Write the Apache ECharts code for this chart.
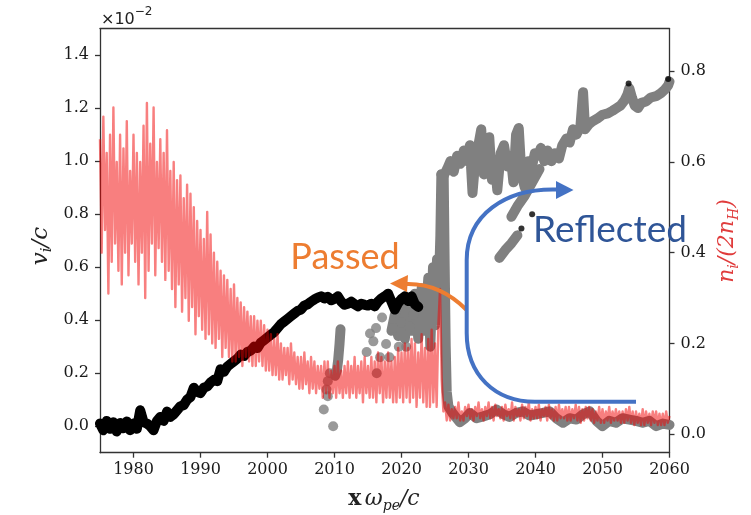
<!DOCTYPE html>
<html><head><meta charset="utf-8">
<script src="https://cdn.jsdelivr.net/npm/echarts@6/dist/echarts.min.js"></script>
<style>html,body{margin:0;padding:0;background:#fff}#c{width:751px;height:515px}</style>
</head><body><div id="c"></div>
<script>
// ---- tick labels ----
const xTicks = [1980, 1990, 2000, 2010, 2020, 2030, 2040, 2050, 2060];
const leftTicks = [0, 0.2, 0.4, 0.6, 0.8, 1.0, 1.2, 1.4];
const rightTicks = [0, 0.2, 0.4, 0.6, 0.8];

// ---- black: v_i/c of passed ions (left axis, x10^-2), sampled every 0.5 from 1975 ----
const blackStart = 1975, blackStep = 0.5;
const blackValues = [
  0.01,-0.015,0.02,-0.01,0.015,-0.02,0.012,-0.008,0.018,-0.015,
  0.01,-0.01,0.06,0.015,0.01,0.0,-0.015,0.02,0.035,0.02,
  0.055,0.035,0.045,0.06,0.075,0.08,0.1,0.11,0.145,0.13,
  0.125,0.145,0.15,0.165,0.175,0.17,0.215,0.205,0.225,0.235,
  0.245,0.255,0.27,0.265,0.28,0.285,0.3,0.295,0.315,0.325,
  0.335,0.345,0.355,0.37,0.385,0.395,0.405,0.415,0.425,0.435,
  0.44,0.455,0.46,0.47,0.478,0.485,0.49,0.482,0.488,0.475,
  0.48,0.49,0.47,0.458,0.462,0.47,0.46,0.452,0.462,0.458,
  0.455,0.462,0.452,0.47,0.482,0.49,0.5,0.47,0.44,0.465,
  0.48,0.49,0.472,0.49,0.46,0.45
];
const blackDots = [[2037.9,0.746],[2039.5,0.8],[2053.9,1.293],[2059.8,1.31]];

// ---- gray: v_i/c of all ions (left axis) ----
const grayDots = [[2008.4,0.063],[2009.8,0.0],[2008.8,0.138],[2009.0,0.113],[2009.3,0.2],[2009.0,0.17],
  [2014.8,0.28],[2015.3,0.35],[2016.2,0.37],[2016.8,0.26],[2016.3,0.2],[2017.7,0.31],[2018.2,0.26],
  [2017.1,0.41],[2015.8,0.32],[2018.8,0.37],[2019.2,0.43],[2019.6,0.3],[2020.7,0.3],[2021.2,0.375],
  [2020.0,0.39],[2021.8,0.42]];
const grayStreak = [[2010.9,0.366],[2010.75,0.31],[2010.55,0.25],[2010.35,0.21],[2010.1,0.19]];
const grayCloud = [[2018.5,0.36],[2019.0,0.42],[2019.5,0.34],[2020.0,0.44],[2020.5,0.33],[2021.0,0.46],
  [2021.5,0.36],[2022.0,0.5],[2022.5,0.33],[2023.0,0.52],[2023.5,0.36],[2024.0,0.56],[2024.3,0.3],
  [2024.7,0.6],[2025.0,0.38],[2025.3,0.63],[2025.6,0.55],[2025.8,0.72],[2025.95,0.95]];
const grayUpper = [[2025.95,0.95],[2026.3,0.945],[2026.8,0.97],[2027.3,1.0],[2027.8,0.96],[2028.3,1.02],
  [2028.8,0.99],[2029.3,1.04],[2029.8,1.0],[2030.2,1.06],[2030.6,0.88],[2031.0,1.0],[2031.4,1.05],
  [2031.9,1.12],[2032.3,0.95],[2032.7,1.02],[2033.1,1.09],[2033.5,0.93],[2033.9,1.0],[2034.3,0.89],
  [2034.8,1.03],[2035.3,1.06],[2035.8,0.98],[2036.3,1.02],[2036.7,0.92],[2037.1,1.1],[2037.5,1.125],
  [2037.9,0.95],[2038.4,0.9],[2038.9,1.0],[2039.4,0.97],[2039.9,1.03],[2040.4,1.02],[2040.8,1.05],
  [2041.3,1.0],[2041.8,1.04],[2042.4,1.0],[2042.9,1.03],[2043.5,1.01],[2044.0,1.06],[2044.6,1.085],
  [2045.1,1.07],[2045.6,1.12],[2046.1,1.1],[2046.7,1.13],[2047.1,1.26],[2047.4,1.12],[2048.0,1.14],
  [2048.5,1.15],[2049.2,1.16],[2050.0,1.175],[2050.8,1.18],[2051.5,1.19],[2052.1,1.2],[2052.7,1.21],
  [2053.3,1.23],[2053.7,1.25],[2054.0,1.275],[2054.4,1.24],[2054.8,1.21],[2055.3,1.2],[2055.8,1.22],
  [2056.5,1.225],[2057.2,1.24],[2058.0,1.245],[2058.7,1.256],[2059.3,1.27],[2059.8,1.286],[2060.0,1.3]];
const grayLower = [[2026.3,0.94],[2026.45,0.6],[2026.6,0.3],[2026.75,0.13],[2027.0,0.075],[2027.6,0.05],
  [2028.7,0.015],[2029.5,0.03],[2030.2,0.05],[2031.2,0.03],[2032.2,0.037],[2033.2,0.045],[2034.2,0.063],
  [2035.2,0.045],[2036.1,0.035],[2037.1,0.05],[2038.1,0.056],[2039.1,0.04],[2040.1,0.045],[2041.1,0.05],
  [2042.1,0.056],[2043.1,0.03],[2044.1,0.013],[2045.1,0.03],[2046.1,0.025],[2047.1,0.045],[2048.1,0.056],
  [2049.1,0.02],[2050.0,0.0],[2051.0,0.02],[2052.0,0.013],[2053.0,0.03],[2054.0,0.025],[2055.0,0.02],
  [2056.0,0.013],[2057.0,0.02],[2058.0,0.0],[2059.0,0.01],[2060.0,0.005]];
const grayBeamA = [[2034.6,0.635],[2035.5,0.665],[2036.4,0.69],[2037.3,0.72]];
const grayBeamB = [[2036.4,0.79],[2037.3,0.83],[2038.4,0.87],[2039.5,0.92],[2040.6,0.97]];

// ---- red: n_i/(2n_H) (right axis), sampled every 0.25 from 1975 ----
const redStart = 1975, redStep = 0.25;
const redValues = [
  0.65,0.40,0.70,0.45, 0.62,0.31,0.66,0.38, 0.72,0.42,0.60,0.36, 0.66,0.33,0.63,0.40, 0.69,0.35,0.58,0.42,
  0.66,0.38,0.62,0.33, 0.60,0.40,0.68,0.30, 0.73,0.36,0.64,0.42, 0.72,0.35,0.60,0.41, 0.65,0.38,0.62,0.34,
  0.67,0.36,0.58,0.32, 0.60,0.28,0.56,0.33, 0.57,0.27,0.52,0.30, 0.55,0.25,0.53,0.28, 0.50,0.22,0.47,0.26,
  0.45,0.23,0.43,0.21, 0.49,0.22,0.44,0.20, 0.40,0.19,0.38,0.21, 0.36,0.17,0.35,0.19, 0.34,0.17,0.32,0.16,
  0.33,0.16,0.30,0.17, 0.29,0.15,0.28,0.17, 0.27,0.16,0.26,0.15, 0.26,0.15,0.25,0.16, 0.25,0.15,0.24,0.14,
  0.23,0.14,0.22,0.13, 0.21,0.13,0.22,0.12, 0.20,0.12,0.19,0.13, 0.19,0.11,0.20,0.12, 0.18,0.11,0.17,0.10,
  0.17,0.10,0.18,0.11, 0.16,0.09,0.17,0.10, 0.16,0.09,0.15,0.10, 0.15,0.08,0.16,0.09, 0.16,0.08,0.14,0.09,
  0.15,0.08,0.16,0.09, 0.14,0.08,0.15,0.09, 0.16,0.08,0.15,0.09, 0.17,0.08,0.15,0.09, 0.16,0.07,0.17,0.09,
  0.15,0.08,0.17,0.08, 0.16,0.07,0.18,0.09, 0.17,0.07,0.16,0.08, 0.18,0.08,0.16,0.07, 0.17,0.07,0.19,0.08,
  0.18,0.07,0.20,0.08, 0.19,0.07,0.21,0.08, 0.20,0.06,0.18,0.08, 0.22,0.07,0.19,0.06, 0.21,0.06,0.23,0.07,
  0.20,0.06,0.24,0.32, 0.12,0.05,0.07,0.03,
  0.065,0.03,0.055,0.035, 0.06,0.035,0.07,0.03, 0.05,0.03,0.06,0.04, 0.065,0.035,0.055,0.03,
  0.06,0.04,0.07,0.035, 0.055,0.03,0.06,0.04, 0.07,0.035,0.06,0.03, 0.065,0.04,0.055,0.035,
  0.06,0.03,0.065,0.04, 0.055,0.035,0.07,0.03, 0.06,0.04,0.055,0.03, 0.065,0.035,0.06,0.04,
  0.07,0.03,0.055,0.035, 0.06,0.035,0.065,0.03, 0.055,0.04,0.06,0.03, 0.065,0.035,0.055,0.03,
  0.06,0.03,0.065,0.035, 0.055,0.035,0.06,0.03, 0.06,0.03,0.055,0.035, 0.065,0.03,0.06,0.025,
  0.055,0.03,0.06,0.035, 0.06,0.03,0.055,0.025, 0.05,0.03,0.06,0.025, 0.055,0.025,0.05,0.03,
  0.06,0.025,0.05,0.03, 0.055,0.03,0.05,0.025, 0.05,0.025,0.055,0.03, 0.06,0.025,0.05,0.02,
  0.05,0.025,0.045,0.02, 0.055,0.02,0.05,0.025, 0.045,0.02,0.05,0.025, 0.05,0.02,0.045,0.02,
  0.045,0.02,0.05,0.025, 0.04
];

const blackData = blackValues.map((v, i) => [blackStart + i * blackStep, v]);
const redData = redValues.map((v, i) => [redStart + i * redStep, v]);

const chart = echarts.init(document.getElementById('c'), null, {renderer: 'canvas'});
const axisColor = '#333';
const tickFont = {fontFamily: 'DejaVu Serif', fontSize: 16, color: '#1a1a1a'};
const grayLine = (data) => ({type: 'line', data, yAxisIndex: 0, showSymbol: false, silent: true,
  lineStyle: {color: '#808080', width: 10, cap: 'round', join: 'round'}, z: 1});
const orange = '#ED7D31', blue = '#4472C4';

chart.setOption({
  animation: false,
  backgroundColor: '#fff',
  grid: {left: 100, right: 81.5, top: 28.6, bottom: 62.3, containLabel: false},
  xAxis: [{
    type: 'value', min: 1975, max: 2060,
    axisLine: {show: true, onZero: false, lineStyle: {color: axisColor, width: 1.3}},
    axisTick: {show: true, length: 5, customValues: xTicks, lineStyle: {color: axisColor, width: 1.3}},
    axisLabel: Object.assign({margin: 9, customValues: xTicks, formatter: v => String(v)}, tickFont),
    splitLine: {show: false}
  }, {
    type: 'value', min: 1975, max: 2060, position: 'top',
    axisLine: {show: true, onZero: false, lineStyle: {color: axisColor, width: 1.3}},
    axisTick: {show: false}, axisLabel: {show: false}, splitLine: {show: false}
  }],
  yAxis: [{
    type: 'value', min: -0.1, max: 1.5, position: 'left',
    axisLine: {show: true, onZero: false, lineStyle: {color: axisColor, width: 1.3}},
    axisTick: {show: true, length: 5, customValues: leftTicks, lineStyle: {color: axisColor, width: 1.3}},
    axisLabel: Object.assign({margin: 11, customValues: leftTicks, formatter: v => v.toFixed(1)}, tickFont),
    splitLine: {show: false}
  }, {
    type: 'value', min: -0.041, max: 0.894, position: 'right',
    axisLine: {show: true, onZero: false, lineStyle: {color: axisColor, width: 1.3}},
    axisTick: {show: true, length: 5, customValues: rightTicks, lineStyle: {color: axisColor, width: 1.3}},
    axisLabel: Object.assign({margin: 11, customValues: rightTicks, formatter: v => v.toFixed(1)}, tickFont),
    splitLine: {show: false}
  }],
  series: [
    {type: 'scatter', data: grayDots, yAxisIndex: 0, symbolSize: 10, itemStyle: {color: '#808080'}, silent: true, z: 1},
    grayLine(grayStreak), grayLine(grayCloud), grayLine(grayUpper), grayLine(grayLower),
    grayLine(grayBeamA), grayLine(grayBeamB),
    {type: 'line', data: blackData, yAxisIndex: 0, showSymbol: false, silent: true,
      lineStyle: {color: '#000', width: 10, cap: 'round', join: 'round'}, z: 2},
    {type: 'scatter', data: blackDots, yAxisIndex: 0, symbolSize: 6, itemStyle: {color: '#000'}, silent: true, z: 3},
    {type: 'line', data: redData, yAxisIndex: 1, showSymbol: false, silent: true, sampling: null,
      lineStyle: {color: '#f20000', width: 2.4, opacity: 0.5, join: 'round'}, z: 4}
  ],
  graphic: [
    {type: 'text', x: 101, y: 17, z: 10, style: {text: '{a|×10}{s|−2}', fill: '#222', verticalAlign: 'middle',
      rich: {a: {fontFamily: 'DejaVu Sans', fontSize: 16, lineHeight: 22, verticalAlign: 'bottom', fill: '#222'},
             s: {fontFamily: 'DejaVu Sans', fontSize: 12, lineHeight: 22, verticalAlign: 'top', fill: '#222'}}}},
    {type: 'text', x: 41, y: 246, rotation: Math.PI / 2, z: 10, style: {text: '{i|v}{s|i}{i|/c}', align: 'center', verticalAlign: 'middle',
      rich: {i: {fontFamily: 'DejaVu Serif', fontStyle: 'italic', fontSize: 23, lineHeight: 28, fill: '#222'},
             s: {fontFamily: 'DejaVu Serif', fontStyle: 'italic', fontSize: 15, lineHeight: 14, verticalAlign: 'bottom', fill: '#222'}}}},
    {type: 'text', x: 727, y: 241, rotation: Math.PI / 2, z: 10, style: {text: '{i|n}{s|i}{i|/(2n}{s|H}{i|)}', align: 'center', verticalAlign: 'middle',
      rich: {i: {fontFamily: 'DejaVu Serif', fontStyle: 'italic', fontSize: 22, lineHeight: 28, fill: '#e03c3c'},
             s: {fontFamily: 'DejaVu Serif', fontStyle: 'italic', fontSize: 14, lineHeight: 14, verticalAlign: 'bottom', fill: '#e03c3c'}}}},
    {type: 'text', x: 384, y: 499, z: 10, style: {text: '{b|x} {i|ω}{s|pe}{i|/c}', align: 'center', verticalAlign: 'middle',
      rich: {b: {fontFamily: 'DejaVu Serif', fontWeight: 'bold', fontSize: 22, lineHeight: 28, fill: '#222'},
             i: {fontFamily: 'DejaVu Serif', fontStyle: 'italic', fontSize: 22, lineHeight: 28, fill: '#222'},
             s: {fontFamily: 'DejaVu Serif', fontStyle: 'italic', fontSize: 14, lineHeight: 14, verticalAlign: 'bottom', fill: '#222'}}}},
    {type: 'text', x: 345, y: 257, z: 10, style: {text: 'Passed', fontFamily: 'Lato', fontSize: 36, fill: orange, align: 'center', verticalAlign: 'middle'}},
    {type: 'text', x: 610, y: 230, z: 10, style: {text: 'Reflected', fontFamily: 'Lato', fontSize: 37, fill: '#2F5597', align: 'center', verticalAlign: 'middle'}},
    {type: 'bezierCurve', z: 10, shape: {x1: 466.7, y1: 310, cpx1: 440, cpy1: 283, x2: 406, y2: 284}, style: {fill: null, stroke: orange, lineWidth: 4}},
    {type: 'polygon', z: 10, shape: {points: [[390, 283.5], [408, 275], [407, 292]]}, style: {fill: orange}},
    {type: 'line', z: 10, shape: {x1: 636, y1: 401.7, x2: 535, y2: 401.7}, style: {stroke: blue, lineWidth: 4}},
    {type: 'bezierCurve', z: 10, shape: {x1: 535, y1: 401.7, cpx1: 495, cpy1: 401.7, cpx2: 466.7, cpy2: 375, x2: 466.7, y2: 333}, style: {fill: null, stroke: blue, lineWidth: 4}},
    {type: 'line', z: 10, shape: {x1: 466.7, y1: 333, x2: 466.7, y2: 260}, style: {stroke: blue, lineWidth: 4}},
    {type: 'bezierCurve', z: 10, shape: {x1: 466.7, y1: 260, cpx1: 466.7, cpy1: 215, cpx2: 505, cpy2: 188, x2: 557, y2: 189.5}, style: {fill: null, stroke: blue, lineWidth: 4}},
    {type: 'polygon', z: 10, shape: {points: [[573.5, 190], [556, 181], [556, 199]]}, style: {fill: blue}}
  ]
});
</script></body></html>
